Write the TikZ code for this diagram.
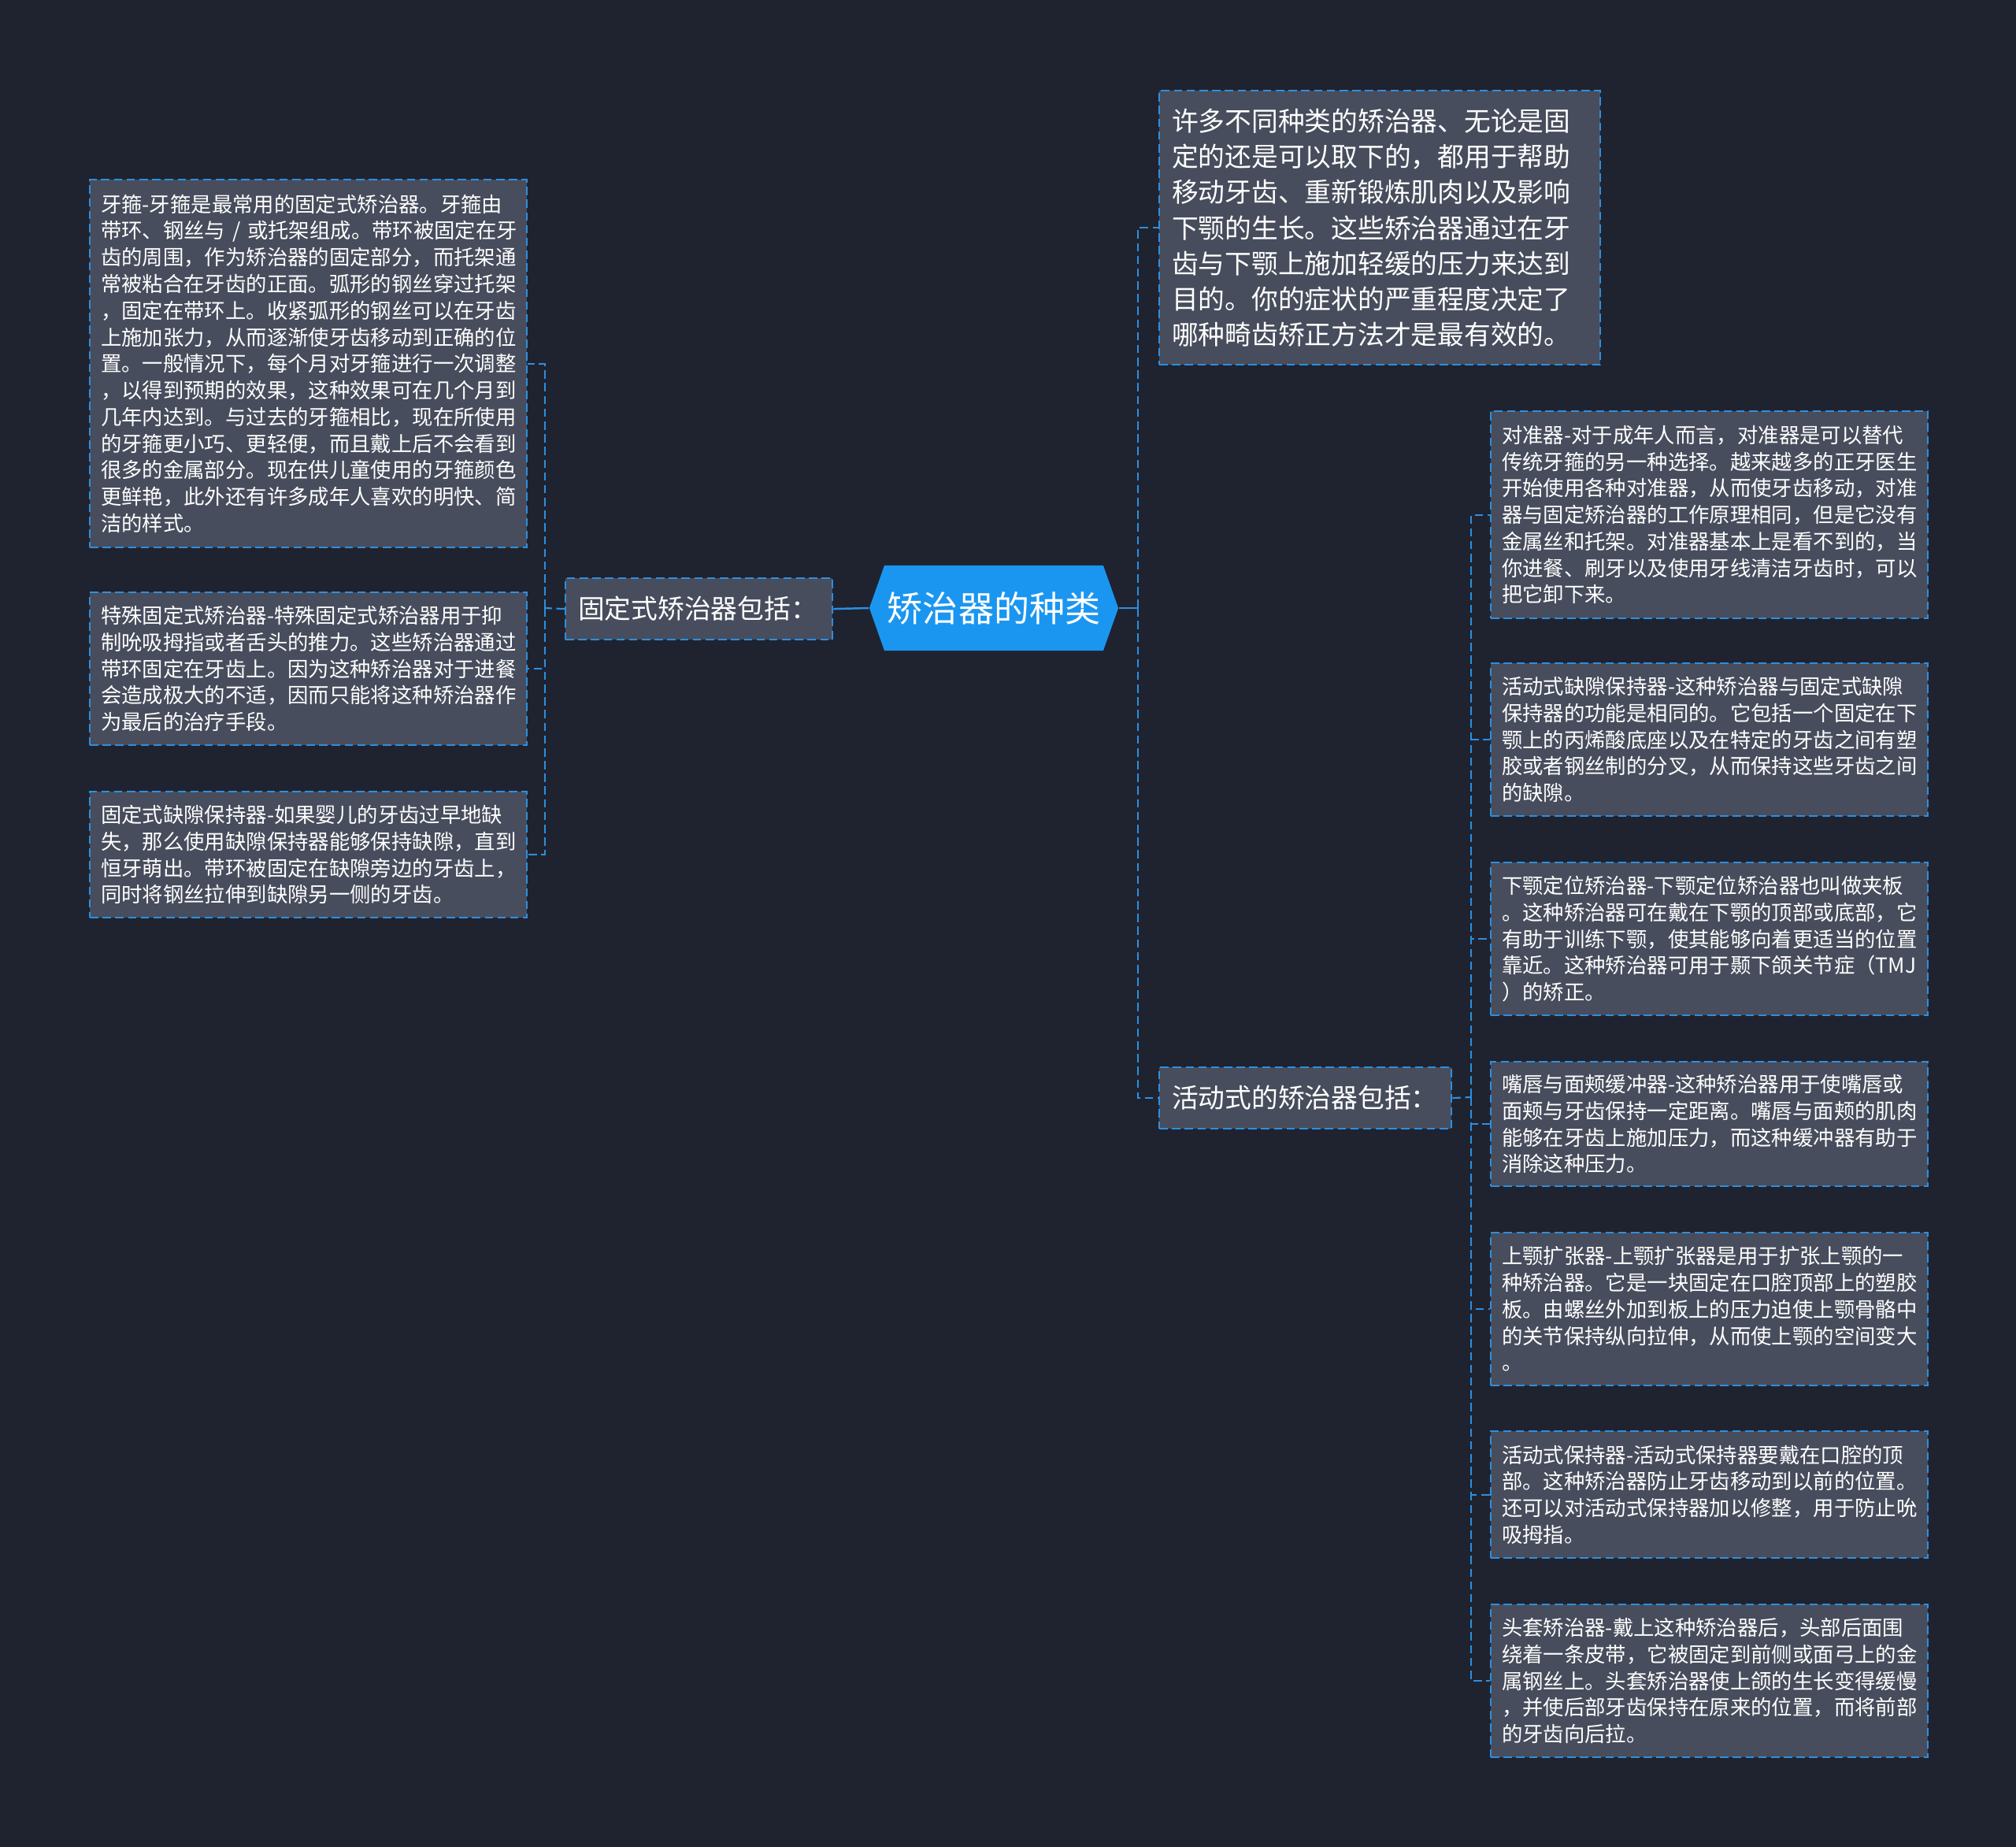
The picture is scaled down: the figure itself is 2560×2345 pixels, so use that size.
\documentclass[tikz,border=0pt]{standalone}
\usepackage{fontspec}
\setmainfont{Noto Sans CJK SC}
\usetikzlibrary{shapes.symbols}
\definecolor{bgc}{HTML}{1F2330}
\definecolor{boxc}{HTML}{474D5C}
\definecolor{linec}{HTML}{2D8FE0}
\definecolor{rootc}{HTML}{1A96F0}
\begin{document}
\begin{tikzpicture}[x=0.01cm,y=-0.01cm,
 box/.style={draw=linec,fill=boxc,text=white,line width=0.6pt,dash pattern=on 3pt off 1.6pt,anchor=north west,align=left,inner ysep=0pt},
 leaf/.style={box,inner xsep=0.14cm,text width=5.27cm,font=\fontsize{7.5}{9.6}\selectfont},
 branch/.style={box,inner xsep=0.16cm,minimum height=0.78cm,font=\fontsize{9.6}{11}\selectfont},
 link/.style={draw=linec,line width=0.6pt,dash pattern=on 3pt off 1.6pt},
 tie/.style={draw=linec,line width=0.7pt}]
\fill[bgc] (0,0) rectangle (2560,2345);
% centre
\node[signal,signal to=west and east,signal pointer angle=141,fill=rootc,text=white,inner sep=0pt,
 minimum width=3.16cm,minimum height=1.08cm,font=\fontsize{12.8}{15}\selectfont] (root) at (1262,772) {矫治器的种类};
\node[branch,text width=3.07cm] (fix) at (717,733) {固定式矫治器包括：};
\node[branch,text width=3.39cm] (act) at (1471,1354) {活动式的矫治器包括：};
\node[box,inner xsep=0.16cm,text width=5.28cm,minimum height=3.48cm,font=\fontsize{9.6}{12.8}\selectfont] (desc) at (1471,114) {许多不同种类的矫治器、无论是固\\定的还是可以取下的，都用于帮助\\移动牙齿、重新锻炼肌肉以及影响\\下颚的生长。这些矫治器通过在牙\\齿与下颚上施加轻缓的压力来达到\\目的。你的症状的严重程度决定了\\哪种畸齿矫正方法才是最有效的。};
% left leaves
\node[leaf,minimum height=4.67cm] (l1) at (113,227) {牙箍-牙箍是最常用的固定式矫治器。牙箍由\\带环、钢丝与~/~或托架组成。带环被固定在牙\\齿的周围，作为矫治器的固定部分，而托架通\\常被粘合在牙齿的正面。弧形的钢丝穿过托架\\，固定在带环上。收紧弧形的钢丝可以在牙齿\\上施加张力，从而逐渐使牙齿移动到正确的位\\置。一般情况下，每个月对牙箍进行一次调整\\，以得到预期的效果，这种效果可在几个月到\\几年内达到。与过去的牙箍相比，现在所使用\\的牙箍更小巧、更轻便，而且戴上后不会看到\\很多的金属部分。现在供儿童使用的牙箍颜色\\更鲜艳，此外还有许多成年人喜欢的明快、简\\洁的样式。};
\node[leaf,minimum height=1.94cm] (l2) at (113,751) {特殊固定式矫治器-特殊固定式矫治器用于抑\\制吮吸拇指或者舌头的推力。这些矫治器通过\\带环固定在牙齿上。因为这种矫治器对于进餐\\会造成极大的不适，因而只能将这种矫治器作\\为最后的治疗手段。};
\node[leaf,minimum height=1.60cm] (l3) at (113,1004) {固定式缺隙保持器-如果婴儿的牙齿过早地缺\\失，那么使用缺隙保持器能够保持缺隙，直到\\恒牙萌出。带环被固定在缺隙旁边的牙齿上，\\同时将钢丝拉伸到缺隙另一侧的牙齿。};
% right leaves
\node[leaf,minimum height=2.63cm] (r1) at (1892,521) {对准器-对于成年人而言，对准器是可以替代\\传统牙箍的另一种选择。越来越多的正牙医生\\开始使用各种对准器，从而使牙齿移动，对准\\器与固定矫治器的工作原理相同，但是它没有\\金属丝和托架。对准器基本上是看不到的，当\\你进餐、刷牙以及使用牙线清洁牙齿时，可以\\把它卸下来。};
\node[leaf,minimum height=1.94cm] (r2) at (1892,841) {活动式缺隙保持器-这种矫治器与固定式缺隙\\保持器的功能是相同的。它包括一个固定在下\\颚上的丙烯酸底座以及在特定的牙齿之间有塑\\胶或者钢丝制的分叉，从而保持这些牙齿之间\\的缺隙。};
\node[leaf,minimum height=1.94cm] (r3) at (1892,1094) {下颚定位矫治器-下颚定位矫治器也叫做夹板\\。这种矫治器可在戴在下颚的顶部或底部，它\\有助于训练下颚，使其能够向着更适当的位置\\靠近。这种矫治器可用于颞下颌关节症（TMJ\\）的矫正。};
\node[leaf,minimum height=1.58cm] (r4) at (1892,1347) {嘴唇与面颊缓冲器-这种矫治器用于使嘴唇或\\面颊与牙齿保持一定距离。嘴唇与面颊的肌肉\\能够在牙齿上施加压力，而这种缓冲器有助于\\消除这种压力。};
\node[leaf,minimum height=1.94cm] (r5) at (1892,1564) {上颚扩张器-上颚扩张器是用于扩张上颚的一\\种矫治器。它是一块固定在口腔顶部上的塑胶\\板。由螺丝外加到板上的压力迫使上颚骨骼中\\的关节保持纵向拉伸，从而使上颚的空间变大\\。};
\node[leaf,minimum height=1.61cm] (r6) at (1892,1816) {活动式保持器-活动式保持器要戴在口腔的顶\\部。这种矫治器防止牙齿移动到以前的位置。\\还可以对活动式保持器加以修整，用于防止吮\\吸拇指。};
\node[leaf,minimum height=1.94cm] (r7) at (1892,2036) {头套矫治器-戴上这种矫治器后，头部后面围\\绕着一条皮带，它被固定到前侧或面弓上的金\\属钢丝上。头套矫治器使上颌的生长变得缓慢\\，并使后部牙齿保持在原来的位置，而将前部\\的牙齿向后拉。};
% connectors
\coordinate (lb) at (692,772);
\coordinate (rt) at (1445,772);
\coordinate (rb) at (1868,1393);
\draw[tie] (root.west) -- (fix.east);
\draw[tie] (root.east) -- (rt);
\draw[link] (rt) |- (desc.west);
\draw[link] (rt) |- (act.west);
\draw[link] (fix.west) -- (lb);
\foreach \i in {1,2,3} \draw[link] (lb) |- (l\i.east);
\draw[link] (act.east) -- (rb);
\foreach \i in {1,...,7} \draw[link] (rb) |- (r\i.west);
\end{tikzpicture}
\end{document}
